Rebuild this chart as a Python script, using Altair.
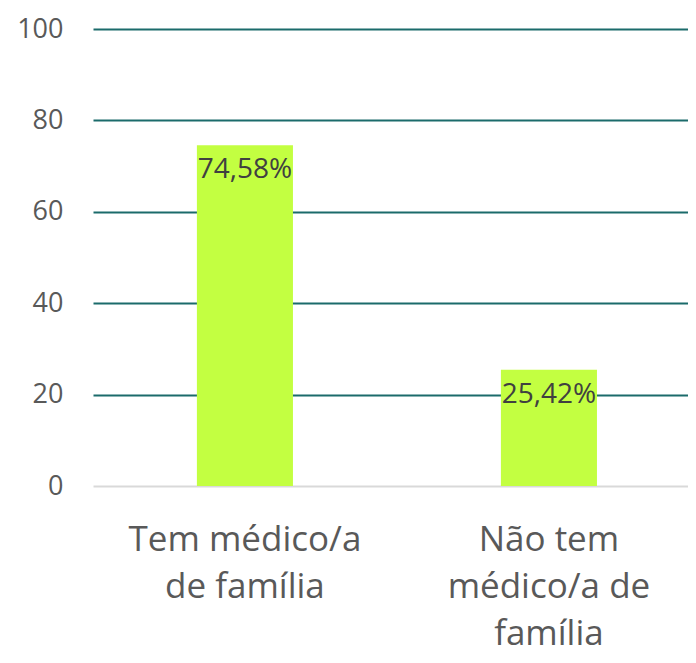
import altair as alt
import pandas as pd

categories = ["Tem médico/a de família", "Não tem médico/a de família"]
values = [74.58, 25.42]
labels = ["74,58%", "25,42%"]

df = pd.DataFrame({"cat": categories, "value": values, "label": labels})

label_expr = (
    "datum.value == 'Tem médico/a de família' ? ['Tem médico/a', 'de família'] : "
    "['Não tem', 'médico/a de', 'família']"
)

x = alt.X(
    "cat:N",
    sort=categories,
    title=None,
    scale=alt.Scale(paddingInner=0.684, paddingOuter=0.3206, align=0.533),
    axis=alt.Axis(
        labelExpr=label_expr,
        labelAngle=0,
        labelFontSize=35,
        labelColor="#595959",
        labelFont="Open Sans",
        labelPadding=36,
        labelLineHeight=47,
        labelBaseline="top",
        labelLimit=0,
        ticks=False,
        domain=False,
        grid=False,
    ),
)

y = alt.Y(
    "value:Q",
    title=None,
    scale=alt.Scale(domain=[0, 100]),
    axis=alt.Axis(
        values=[0, 20, 40, 60, 80, 100],
        labelFontSize=27,
        labelColor="#595959",
        labelFont="Open Sans",
        labelPadding=30,
        ticks=False,
        domain=False,
        gridColor=alt.condition("datum.value == 0", alt.value("#d9d9d9"), alt.value("#1b6b6b")),
        gridWidth=2,
    ),
)

base = alt.Chart(df)

bars = base.mark_bar(color="#C3FF41").encode(x=x, y=y)

text = base.mark_text(
    baseline="top", dy=11, fontSize=28, color="#404040", font="Open Sans"
).encode(x=x, y=y, text="label:N")

chart = (
    alt.layer(bars, text)
    .properties(
        width=595,
        height=457,
        autosize=alt.AutoSizeParams(type="none"),
        padding={"left": 85, "top": 21, "right": 0, "bottom": 169},
    )
    .configure_view(stroke=None)
)

chart.save("out.html", embed_options={"renderer": "svg", "actions": False})
